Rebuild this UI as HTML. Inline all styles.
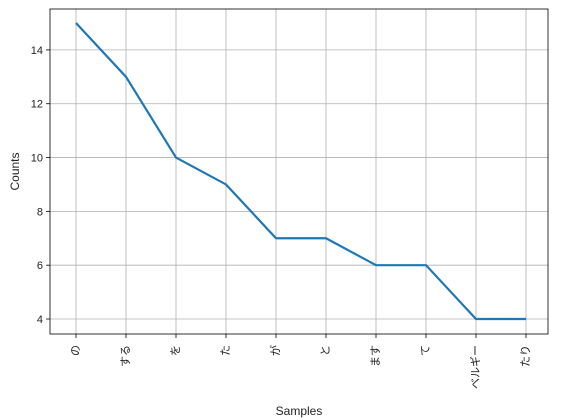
<!DOCTYPE html>
<html><head><meta charset="utf-8"><style>body{margin:0;background:#fff}svg{display:block}</style></head>
<body>
<svg id="chart" width="561" height="420" xmlns="http://www.w3.org/2000/svg" font-family="'Liberation Sans','Noto Sans CJK JP',sans-serif"></svg>
<script>
const categories=["の","する","を","た","が","と","ます","て","ベルギー","たり"];
const counts=[15,13,10,9,7,7,6,6,4,4];
const yTicks=[4,6,8,10,12,14];
const NS="http://www.w3.org/2000/svg";
const svg=document.getElementById('chart');
const L=50,R=548,T=9,B=334;
const x=i=>76+i*(526-76)/(categories.length-1);
const y=v=>319+(v-4)*(23-319)/(15-4);
function mk(t,a,p){const e=document.createElementNS(NS,t);for(const k in a)e.setAttribute(k,a[k]);(p||svg).appendChild(e);return e;}
const grid=mk('g',{});


categories.forEach((c,i)=>{
  mk('line',{x1:x(i),x2:x(i),y1:T,y2:B,stroke:'#b0b0b0','stroke-width':0.8},grid);
  mk('line',{x1:x(i),x2:x(i),y1:B,y2:B+4,stroke:'#000','stroke-width':0.8});
  const t=mk('text',{x:0,y:0,'font-size':11,fill:'#222','dominant-baseline':'central','text-anchor':'end',transform:`translate(${x(i)},${B+11}) rotate(-90)`});
  t.textContent=c;
  
  
});
yTicks.forEach(v=>{
  mk('line',{x1:L,x2:R,y1:y(v),y2:y(v),stroke:'#b0b0b0','stroke-width':0.8},grid);
  mk('line',{x1:L-4,x2:L,y1:y(v),y2:y(v),stroke:'#000','stroke-width':0.8});
  const t=mk('text',{x:L-7,y:y(v)+4,'font-size':11,fill:'#222','text-anchor':'end'});
  t.textContent=v;
  
  
});
const line=mk('polyline',{points:counts.map((v,i)=>x(i)+','+y(v)).join(' '),fill:'none',stroke:'#1f77b4','stroke-width':2.2});


const frame=mk('rect',{x:L,y:T,width:R-L,height:B-T,fill:'none',stroke:'#000','stroke-width':0.8});


const xt=mk('text',{x:(L+R)/2,y:415,'font-size':12,fill:'#222','text-anchor':'middle'});
xt.textContent='Samples';


const yt=mk('text',{x:0,y:0,'font-size':12,fill:'#222','text-anchor':'middle',transform:`translate(19,${(T+B)/2}) rotate(-90)`});
yt.textContent='Counts';


</script>
</body></html>
